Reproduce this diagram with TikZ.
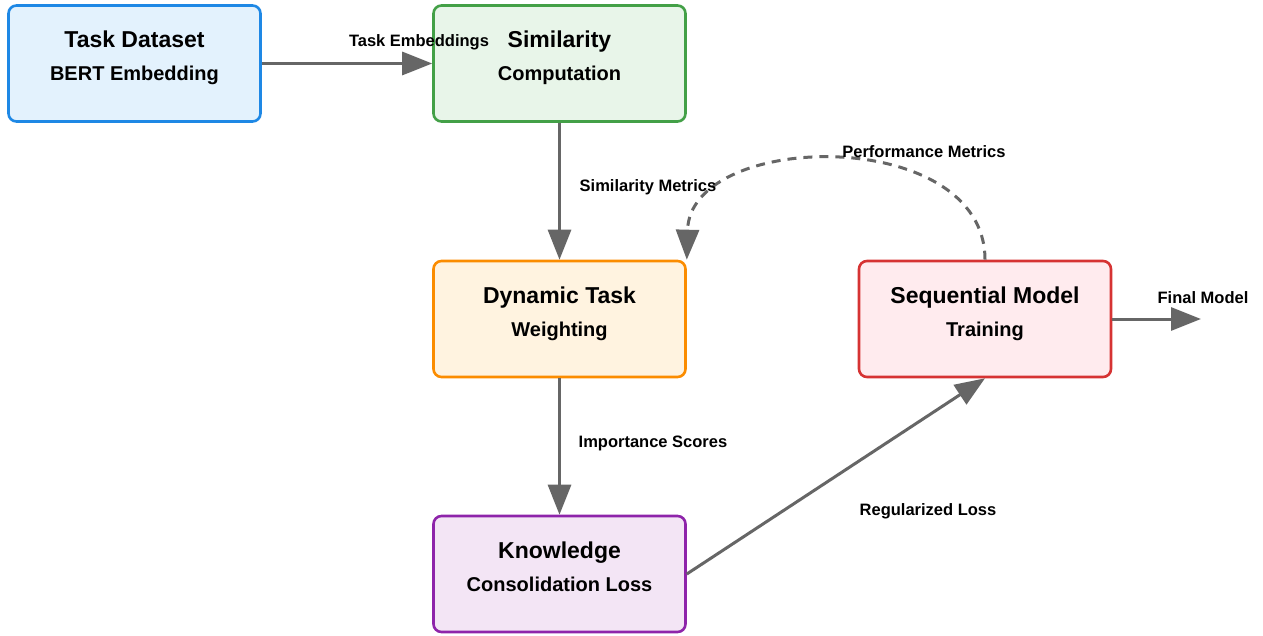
\documentclass[tikz,border=0pt]{standalone}
\usepackage{fontspec}
\setmainfont{Liberation Sans}
\usetikzlibrary{arrows.meta}
\definecolor{edgegray}{HTML}{666666}
\definecolor{bluebd}{HTML}{1E88E5}\definecolor{bluefl}{HTML}{E3F2FD}
\definecolor{greenbd}{HTML}{43A047}\definecolor{greenfl}{HTML}{E8F5E9}
\definecolor{orangebd}{HTML}{FB8C00}\definecolor{orangefl}{HTML}{FFF3E0}
\definecolor{redbd}{HTML}{D63333}\definecolor{redfl}{HTML}{FFEBEE}
\definecolor{purplebd}{HTML}{8E24AA}\definecolor{purplefl}{HTML}{F3E5F5}
\begin{document}
\begin{tikzpicture}[x=1pt,y=-1pt,
  procbox/.style={draw=#1bd,fill=#1fl,line width=2.6pt,rounded corners=8pt,
    minimum width=252pt,minimum height=116pt,inner sep=0pt},
  titletext/.style={anchor=base,inner sep=0pt,font=\fontsize{23}{27}\selectfont\bfseries},
  subtext/.style={anchor=base,inner sep=0pt,font=\fontsize{20}{24}\selectfont\bfseries},
  edgelabel/.style={anchor=base,inner sep=0pt,font=\fontsize{16.5}{19}\selectfont\bfseries},
  flow/.style={draw=edgegray,line width=3pt,-{Triangle[length=30pt,width=23pt]}},
  feedback/.style={flow,dash pattern=on 9pt off 7pt}
]
\useasboundingbox (0,0) rectangle (1263,636);
% boxes
\node[procbox=blue]   (td) at (134.5,63.5) {};
\node[procbox=green]  (sim) at (559.5,63.5) {};
\node[procbox=orange] (dt) at (559.5,319) {};
\node[procbox=red]    (sm) at (985,319) {};
\node[procbox=purple] (kc) at (559.5,574) {};
% box texts (yshift is upward on the canvas)
\node[titletext] (tdT) at ([yshift=15.5pt]td.center) {Task Dataset};
\node[subtext]   (tdS) at ([yshift=-17.5pt]td.center) {BERT Embedding};
\node[titletext] (simT) at ([yshift=15.5pt]sim.center) {Similarity};
\node[subtext]   (simS) at ([yshift=-17.5pt]sim.center) {Computation};
\node[titletext] (dtT) at ([yshift=15.5pt]dt.center) {Dynamic Task};
\node[subtext]   (dtS) at ([yshift=-17.5pt]dt.center) {Weighting};
\node[titletext] (smT) at ([yshift=15.5pt]sm.center) {Sequential Model};
\node[subtext]   (smS) at ([yshift=-17.5pt]sm.center) {Training};
\node[titletext] (kcT) at ([yshift=15.5pt]kc.center) {Knowledge};
\node[subtext]   (kcS) at ([yshift=-17.5pt]kc.center) {Consolidation Loss};
% connectors
\coordinate (out) at (1201,319);
\draw[flow] (td.east) -- (sim.west);
\draw[flow] (sim.south) -- (dt.north);
\draw[flow] (dt.south) -- (kc.north);
\draw[flow] (kc.east) -- (sm.south);
\draw[flow] (sm.east) -- (out);
\draw[feedback] (sm.north) .. controls (985,125) and (690,130) .. (dt.north east);
% edge labels
\node[edgelabel] (l1) at (419,47) {Task Embeddings};
\node[edgelabel] (l2) at (648,192) {Similarity Metrics};
\node[edgelabel] (l3) at (653,447) {Importance Scores};
\node[edgelabel] (l4) at (928,515) {Regularized Loss};
\node[edgelabel] (l5) at (1203,303) {Final Model};
\node[edgelabel] (l6) at (924,158) {Performance Metrics};
\end{tikzpicture}
\end{document}
